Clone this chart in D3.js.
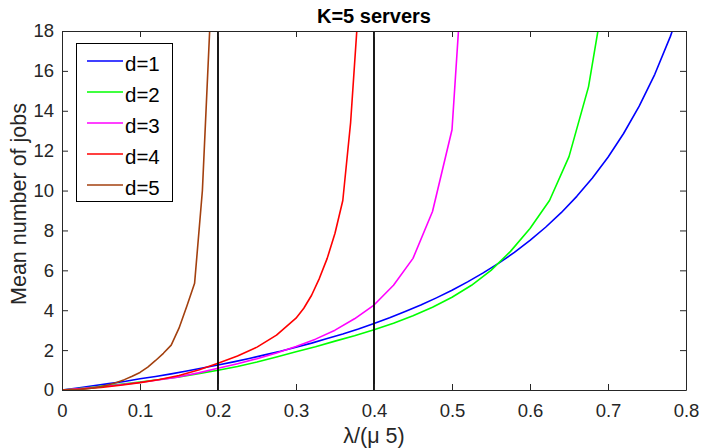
<!DOCTYPE html>
<html>
<head>
<meta charset="utf-8">
<script src="https://cdn.jsdelivr.net/npm/d3@7"></script>
<style>
  html, body { margin: 0; padding: 0; background: #fff; }
  svg { display: block; font-family: "Liberation Sans", Arial, Helvetica, sans-serif; }
</style>
</head>
<body>
<svg id="chart" width="703" height="448"></svg>
<script>
// Mean number of jobs vs. normalised load for K=5 servers, one curve per d.
const xTicks = [0, 0.1, 0.2, 0.3, 0.4, 0.5, 0.6, 0.7, 0.8];
const xTickLabels = ["0", "0.1", "0.2", "0.3", "0.4", "0.5", "0.6", "0.7", "0.8"];
const yTicks = [0, 2, 4, 6, 8, 10, 12, 14, 16, 18];
const yTickLabels = ["0", "2", "4", "6", "8", "10", "12", "14", "16", "18"];
const markerLoads = [0.2, 0.4];

const seriesNames = ["d=1", "d=2", "d=3", "d=4", "d=5"];
const seriesColors = ["#0000ff", "#00ff00", "#ff00ff", "#ff0000", "#a3400f"];

const d1Load = [0, 0.02, 0.04, 0.06, 0.08, 0.10, 0.12, 0.14, 0.16, 0.18, 0.20, 0.22, 0.24, 0.26, 0.28,
  0.30, 0.32, 0.34, 0.36, 0.38, 0.40, 0.42, 0.44, 0.46, 0.48, 0.50, 0.52, 0.54, 0.56, 0.58,
  0.60, 0.62, 0.64, 0.66, 0.68, 0.70, 0.72, 0.74, 0.76, 0.78, 0.80];
const d1Jobs = [0, 0.10, 0.21, 0.32, 0.43, 0.56, 0.68, 0.81, 0.95, 1.10, 1.25, 1.41, 1.58, 1.76, 1.94,
  2.14, 2.35, 2.58, 2.81, 3.06, 3.33, 3.62, 3.93, 4.26, 4.62, 5.00, 5.42, 5.87, 6.36, 6.90,
  7.50, 8.16, 8.89, 9.71, 10.63, 11.67, 12.86, 14.23, 15.83, 17.73, 20.00];

const d2Load = [0, 0.025, 0.05, 0.075, 0.1, 0.125, 0.15, 0.175, 0.2, 0.225, 0.25, 0.275, 0.3, 0.325,
  0.35, 0.375, 0.4, 0.425, 0.45, 0.475, 0.5, 0.525, 0.55, 0.575, 0.6, 0.625, 0.65, 0.675, 0.7];
const d2Jobs = [0, 0.08, 0.18, 0.29, 0.4, 0.53, 0.66, 0.82, 0.99, 1.18, 1.4, 1.65, 1.92, 2.17,
  2.45, 2.72, 3.02, 3.35, 3.72, 4.15, 4.65, 5.25, 6.0, 6.95, 8.1, 9.5, 11.7, 15.2, 21];

const d3Load = [0, 0.025, 0.05, 0.075, 0.1, 0.125, 0.15, 0.175, 0.2, 0.225, 0.25, 0.275, 0.3, 0.325,
  0.35, 0.375, 0.4, 0.425, 0.45, 0.475, 0.5, 0.525];
const d3Jobs = [0, 0.07, 0.16, 0.26, 0.38, 0.51, 0.66, 0.86, 1.09, 1.32, 1.57, 1.86, 2.18, 2.55,
  3.0, 3.57, 4.26, 5.25, 6.6, 8.95, 13.05, 28];

const d4Load = [0, 0.025, 0.05, 0.075, 0.1, 0.125, 0.15, 0.175, 0.2, 0.225, 0.25, 0.275, 0.3,
  0.31, 0.32, 0.33, 0.34, 0.35, 0.36, 0.37, 0.38];
const d4Jobs = [0, 0.05, 0.13, 0.24, 0.37, 0.53, 0.73, 1.0, 1.34, 1.7, 2.15, 2.75, 3.6,
  4.1, 4.75, 5.6, 6.6, 7.86, 9.5, 13.4, 19.2];

const d5Load = [0, 0.01, 0.02, 0.03, 0.04, 0.05, 0.06, 0.07, 0.08, 0.09, 0.10, 0.11, 0.12, 0.13,
  0.14, 0.15, 0.16, 0.17, 0.18, 0.19];
const d5Jobs = [0, 0.005, 0.02, 0.05, 0.1, 0.17, 0.26, 0.38, 0.52, 0.69, 0.88, 1.15, 1.48, 1.84,
  2.25, 3.1, 4.2, 5.35, 10.0, 18.6];

const loads = [d1Load, d2Load, d3Load, d4Load, d5Load];
const jobs = [d1Jobs, d2Jobs, d3Jobs, d4Jobs, d5Jobs];

const series = seriesNames.map((name, i) => ({
  name, color: seriesColors[i],
  points: loads[i].map((l, j) => [l, jobs[i][j]])
}));

const svg = d3.select("#chart");
const plotLeft = 62, plotRight = 686, plotTop = 31, plotBottom = 390;
const axisColor = "#262626";

const x = d3.scaleLinear().domain([0, 0.8]).range([plotLeft, plotRight]);
const y = d3.scaleLinear().domain([0, 18]).range([plotBottom, plotTop]);

svg.append("defs").append("clipPath").attr("id", "plotClip")
  .append("rect").attr("x", plotLeft).attr("y", plotTop)
  .attr("width", plotRight - plotLeft).attr("height", plotBottom - plotTop);

// Curves
const line = d3.line().x(d => x(d[0])).y(d => y(d[1]));
const plot = svg.append("g").attr("clip-path", "url(#plotClip)");
plot.selectAll("path.series").data(series).join("path")
  .attr("class", "series")
  .attr("d", d => line(d.points))
  .attr("fill", "none")
  .attr("stroke", d => d.color)
  .attr("stroke-width", 1.6)
  .attr("stroke-linejoin", "round");

// Vertical reference lines
plot.selectAll("line.marker").data(markerLoads).join("line")
  .attr("class", "marker")
  .attr("x1", d => x(d)).attr("x2", d => x(d))
  .attr("y1", y(0)).attr("y2", y(18))
  .attr("stroke", "#000").attr("stroke-width", 1.8);

// Axes (box with inward ticks on all four sides)
function styleAxis(g) {
  g.selectAll("path.domain").attr("stroke", axisColor).attr("stroke-width", 1);
  g.selectAll(".tick line").attr("stroke", axisColor).attr("stroke-width", 1);
  g.selectAll(".tick text").attr("fill", axisColor).style("font-size", "18.5px")
    .style("font-family", '"Liberation Sans", Arial, sans-serif');
}

svg.append("g").attr("transform", `translate(0,${plotBottom})`)
  .call(d3.axisBottom(x).tickValues(xTicks).tickFormat((d, i) => xTickLabels[i])
    .tickSizeInner(-6).tickSizeOuter(0).tickPadding(14))
  .call(styleAxis);
svg.append("g").attr("transform", `translate(0,${plotTop})`)
  .call(d3.axisTop(x).tickValues(xTicks).tickFormat("")
    .tickSizeInner(-6).tickSizeOuter(0))
  .call(styleAxis);
svg.append("g").attr("transform", `translate(${plotLeft},0)`)
  .call(d3.axisLeft(y).tickValues(yTicks).tickFormat((d, i) => yTickLabels[i])
    .tickSizeInner(-6).tickSizeOuter(0).tickPadding(8))
  .call(styleAxis);
svg.append("g").attr("transform", `translate(${plotRight},0)`)
  .call(d3.axisRight(y).tickValues(yTicks).tickFormat("")
    .tickSizeInner(-6).tickSizeOuter(0))
  .call(styleAxis);

// Title and axis labels
svg.append("text").attr("x", (plotLeft + plotRight) / 2).attr("y", 23)
  .attr("text-anchor", "middle").style("font-size", "20px").style("font-weight", "bold")
  .attr("fill", "#000").text("K=5 servers");
svg.append("text").attr("transform", "translate(26,204) rotate(-90)")
  .attr("text-anchor", "middle").style("font-size", "21.5px")
  .attr("fill", axisColor).text("Mean number of jobs");
svg.append("text").attr("x", (plotLeft + plotRight) / 2).attr("y", 443)
  .attr("text-anchor", "middle").style("font-size", "21.5px")
  .attr("fill", axisColor).text("λ/(μ 5)");

// Legend
const legend = svg.append("g");
legend.append("rect").attr("x", 76.5).attr("y", 43.5).attr("width", 96).attr("height", 158)
  .attr("fill", "#fff").attr("stroke", "#000").attr("stroke-width", 1);
const rowY = d3.scaleLinear().domain([0, 4]).range([61, 185]);
const rows = legend.selectAll("g.row").data(series).join("g")
  .attr("class", "row").attr("transform", (d, i) => `translate(0,${rowY(i)})`);
rows.append("line").attr("x1", 87).attr("x2", 123).attr("y1", 0).attr("y2", 0)
  .attr("stroke", d => d.color).attr("stroke-width", 1.6);
rows.append("text").attr("x", 125).attr("y", 10)
  .style("font-size", "20.5px").attr("fill", "#000").text(d => d.name);
</script>
</body>
</html>
